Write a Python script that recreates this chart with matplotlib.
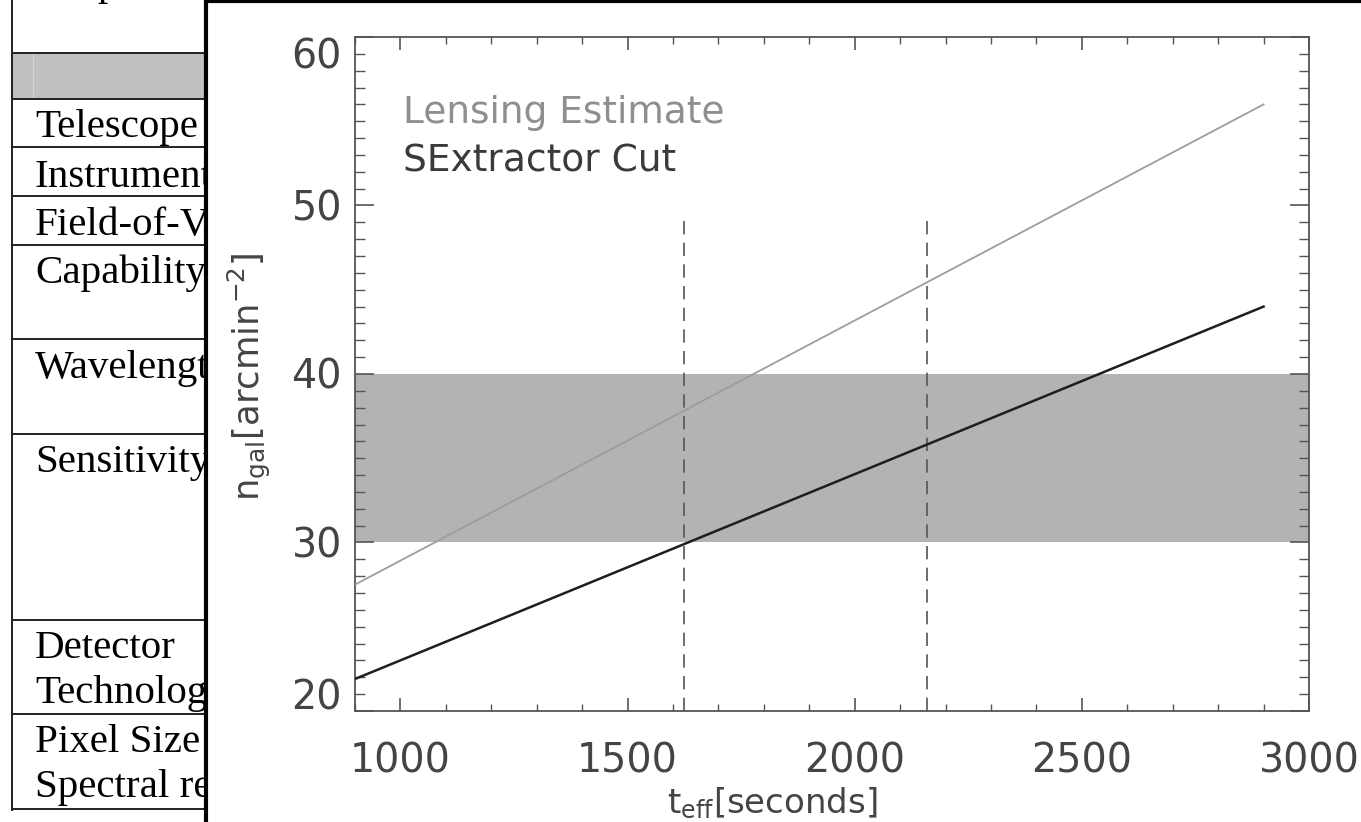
import numpy as np
import matplotlib
matplotlib.use("Agg")
import matplotlib.pyplot as plt
import matplotlib.transforms as mtransforms
from matplotlib.patches import Rectangle

# === Data ===
t_eff = [900, 2900]                 # seconds
n_lensing = [27.5, 56.0]            # Lensing Estimate
n_sextractor = [21.9, 44.0]         # SExtractor Cut
band_range = [30, 40]               # shaded target range
t_cuts = [1625, 2160]               # dashed verticals
cut_top = 49.5
legend_labels = ["Lensing Estimate", "SExtractor Cut"]
x_ticks = [1000, 1500, 2000, 2500, 3000]
y_ticks = [20, 30, 40, 50, 60]

# table left behind the plot (screenshot)
row_labels = ["Telescope", "Instrument", "Field-of-V", "Capability", "Wavelengt",
              "Sensitivity", "Detector\nTechnolog", "Pixel Size\nSpectral re"]

W, H = 1361, 822
plt.rcParams["font.family"] = ["DejaVu Sans"]
plt.rcParams["mathtext.fontset"] = "dejavusans"

fig = plt.figure(figsize=(W / 100, H / 100), dpi=100)

# --- background: table in pixel coords ---
bg = fig.add_axes([0, 0, 1, 1])
bg.set_xlim(0, W)
bg.set_ylim(H, 0)
bg.axis("off")

lines_y = [53, 99, 147, 196, 245, 339, 434, 620, 714, 809]
bg.add_patch(Rectangle((12, 53), 200, 46, facecolor="#c0c0c0", edgecolor="none"))
bg.plot([33, 33], [54, 98], color="#d2d2d2", lw=1)
for yy in lines_y:
    bg.plot([12, 210], [yy, yy], color="#222222", lw=1.4, solid_capstyle="butt")
bg.plot([12.5, 12.5], [0, 810], color="#222222", lw=1.4)

baselines = [137, 187, 235, 283, 378, 472, 658, 752]
for lab, yb in zip(row_labels, baselines):
    for k, part in enumerate(lab.split("\n")):
        bg.text(35, yb + k * 45, part, family="Liberation Serif", fontsize=29.5,
                va="baseline", ha="left", color="black")
bg.text(97, -5, "p", family="Liberation Serif", fontsize=29.5, va="baseline", color="black")

# panel covering the table
bg.add_patch(Rectangle((206, 2), W, H, facecolor="white", edgecolor="none", zorder=5))
bg.plot([206, 206], [0, H], color="black", lw=3, zorder=6, solid_capstyle="butt")
bg.plot([204, W], [1.5, 1.5], color="black", lw=3, zorder=6, solid_capstyle="butt")

# --- chart ---
ax = fig.add_axes([355 / W, 1 - 711 / H, 954 / W, 674 / H])
ax.set_xlim(900, 3000)
ax.set_ylim(20, 60)

ax.axhspan(band_range[0], band_range[1], color="#b3b3b3", lw=0, zorder=1)
ax.plot(t_eff, n_lensing, color="#9d9d9d", lw=1.3, zorder=3)
ax.plot(t_eff, n_sextractor, color="#1e1e1e", lw=1.8, zorder=3)
for tc in t_cuts:
    ax.plot([tc, tc], [20, cut_top], color="#555555", lw=1.2, dashes=(8, 5), zorder=2)

fig.text(403 / W, 1 - 123 / H, legend_labels[0], fontsize=27, color="#8f8f8f",
         va="baseline")
fig.text(403 / W, 1 - 172 / H, legend_labels[1], fontsize=27, color="#3a3a3a",
         va="baseline")

for s in ax.spines.values():
    s.set_color("#555555")
    s.set_linewidth(1.3)

ax.set_xticks(x_ticks)
ax.set_yticks(y_ticks)
ax.set_yticklabels([])
ax.set_xticks(np.arange(900, 3001, 100), minor=True)
ax.set_yticks(np.arange(20, 61, 1), minor=True)
ax.tick_params(which="both", direction="in", top=True, right=True, color="#555555",
               labelcolor="#444444", labelsize=28.5)
ax.tick_params(axis="y", which="major", length=14, width=1.2)
ax.tick_params(axis="y", which="minor", length=7, width=1.0)
ax.tick_params(axis="x", which="major", length=9.5, width=1.2, pad=22)
ax.tick_params(axis="x", which="minor", length=5, width=1.0)

# y labels as in the original: end labels kept inside the axis span, others a bit low
ytrans = ax.get_yaxis_transform()
for i, v in enumerate(y_ticks):
    if i == 0:
        va, dy = "baseline", 1
    elif i == len(y_ticks) - 1:
        va, dy = "top", -1
    else:
        va, dy = "center", -4
    tr = mtransforms.offset_copy(ytrans, fig=fig, x=-13, y=dy, units="dots")
    ax.text(0, v, str(v), transform=tr, ha="right", va=va, fontsize=28.5, color="#444444")

fig.text(249 / W, 1 - 377 / H, r"n$_{\rm gal}$[arcmin$^{-2}$]", rotation=90,
         ha="center", va="center", fontsize=25.5, color="#444444")
fig.text(772 / W, 1 - 813 / H, r"t$_{\rm eff}$[seconds]", ha="center", va="baseline",
         fontsize=24.5, color="#444444")

fig.savefig("out.png", dpi=100)
